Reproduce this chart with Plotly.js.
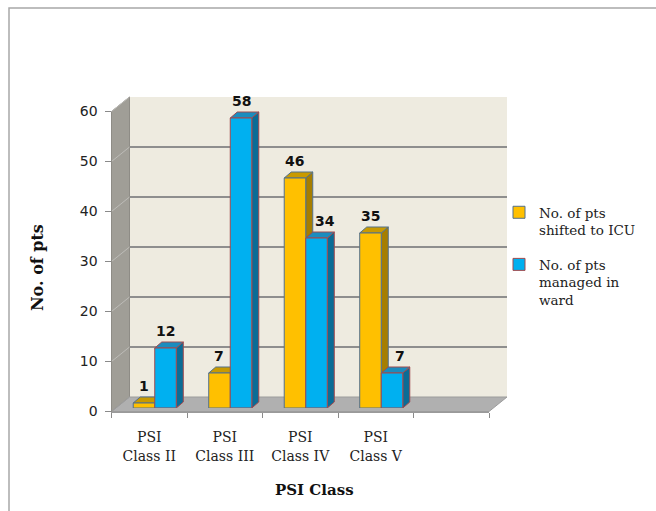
<!DOCTYPE html>
<html>
<head>
<meta charset="utf-8">
<script src="https://cdn.plot.ly/plotly-3.0.1.min.js"></script>
<style>
  html, body { margin: 0; padding: 0; background: #ffffff; }
  #chart { width: 656px; height: 511px; }
</style>
</head>
<body>
<div id="chart"></div>
<script>
// ---- data ----
const categories = ['PSI<br>Class II', 'PSI<br>Class III', 'PSI<br>Class IV', 'PSI<br>Class V'];
const seriesNames = ['No. of pts<br>shifted to ICU', 'No. of pts<br>managed in<br>ward'];
const shiftedToICU = [1, 7, 46, 35];
const managedInWard = [12, 58, 34, 7];
const yTickValues = [0, 10, 20, 30, 40, 50, 60];
const xTitle = 'PSI Class';
const yTitle = 'No. of pts';

// ---- geometry of the pseudo-3D box (pixels in a 656 x 511 figure) ----
const W = 656, H = 511;
const YMAX = 60;
const SLOTS = categories.length + 1;          // one empty slot on the right
const FRONT = { x0: 111.5, x1: 489, y0: 411.5, y1: 111.5 };   // front plane (value 0 -> y0)
const BAR_SHIFT = { dx: 5.5, dy: -3.5 };      // plane in which the bar faces sit
const BACK_SHIFT = { dx: 18, dy: -14.5 };     // back wall plane
const DEPTH = { dx: 7, dy: -6 };              // depth of each bar
const BAR_W = 0.285;                          // bar width in category units

const px = v => v / W;
const py = v => 1 - v / H;
const pxPerCat = (FRONT.x1 - FRONT.x0) / SLOTS;
const pxPerUnit = (FRONT.y0 - FRONT.y1) / YMAX;

function plane(shift) {
  return {
    x: [px(FRONT.x0 + shift.dx), px(FRONT.x1 + shift.dx)],
    y: [py(FRONT.y0 + shift.dy), py(FRONT.y1 + shift.dy)]
  };
}
const front = plane({ dx: 0, dy: 0 });
const barPlane = plane(BAR_SHIFT);
const back = plane(BACK_SHIFT);

const colors = {
  orange: { face: '#FFC000', top: '#C99A00', side: '#A67E00', edge: '#52708C' },
  blue:   { face: '#00B0F0', top: '#1B8CBE', side: '#0A6C96', edge: '#A04A4E' }
};

const idx = categories.map((_, i) => i);
const series = [
  { name: seriesNames[0], values: shiftedToICU, offset: -BAR_W, c: colors.orange, group: 'a' },
  { name: seriesNames[1], values: managedInWard, offset: 0, c: colors.blue, group: 'b' }
];

// ---- traces ----
const traces = [
  // placeholders that give the back-wall grid and the front axes their subplots
  { type: 'scatter', mode: 'lines', x: [], y: [], xaxis: 'x', yaxis: 'y', showlegend: false, hoverinfo: 'skip' },
  { type: 'scatter', mode: 'lines', x: [], y: [], xaxis: 'x2', yaxis: 'y2', showlegend: false, hoverinfo: 'skip' }
];
series.forEach(s => {
  traces.push({
    type: 'bar',
    name: s.name,
    legendgroup: s.group,
    x: idx,
    y: s.values,
    width: BAR_W,
    offset: s.offset,
    xaxis: 'x3', yaxis: 'y3',
    marker: { color: s.c.face, line: { color: s.c.edge, width: 1 } },
    hoverinfo: 'skip'
  });
});

// ---- shapes: walls, floor, bar depth faces ----
const shapes = [];
const path = pts => 'M' + pts.map(p => px(p[0]) + ',' + py(p[1])).join('L') + 'Z';
const F = FRONT, B = BACK_SHIFT;

// back wall
shapes.push({ type: 'path', xref: 'paper', yref: 'paper', layer: 'below',
  path: path([[F.x0 + B.dx, F.y0 + B.dy], [F.x1 + B.dx, F.y0 + B.dy], [F.x1 + B.dx, F.y1 + B.dy], [F.x0 + B.dx, F.y1 + B.dy]]),
  fillcolor: '#EEEBE0', line: { width: 0 } });
// left side wall
shapes.push({ type: 'path', xref: 'paper', yref: 'paper', layer: 'below',
  path: path([[F.x0, F.y0], [F.x0, F.y1], [F.x0 + B.dx, F.y1 + B.dy], [F.x0 + B.dx, F.y0 + B.dy]]),
  fillcolor: '#A09E97', line: { color: '#8E8C86', width: 1 } });
// floor
shapes.push({ type: 'path', xref: 'paper', yref: 'paper', layer: 'below',
  path: path([[F.x0, F.y0], [F.x1, F.y0], [F.x1 + B.dx, F.y0 + B.dy], [F.x0 + B.dx, F.y0 + B.dy]]),
  fillcolor: '#B0B0B0', line: { color: '#9C9C9C', width: 1 } });
// grid lines running across the side wall
yTickValues.forEach(t => {
  const yf = F.y0 - t * pxPerUnit;
  shapes.push({ type: 'line', xref: 'paper', yref: 'paper', layer: 'below',
    x0: px(F.x0), y0: py(yf), x1: px(F.x0 + B.dx), y1: py(yf + B.dy),
    line: { color: t === 0 ? '#9C9C9C' : '#BDBCB8', width: 1 } });
});
// outer chart frame
shapes.push({ type: 'rect', xref: 'paper', yref: 'paper', layer: 'below',
  x0: px(9), x1: 1.05, y0: -0.05, y1: py(8),
  line: { color: '#A8A8A8', width: 1.5 }, fillcolor: 'rgba(0,0,0,0)' });

// depth faces of the bars (drawn in data units of the bar plane)
const ddx = DEPTH.dx / pxPerCat;
const ddy = -DEPTH.dy / pxPerUnit;
const dpath = pts => 'M' + pts.map(p => p[0] + ',' + p[1]).join('L') + 'Z';
series.forEach(s => {
  s.values.forEach((v, i) => {
    const xl = i + s.offset, xr = xl + BAR_W;
    shapes.push({ type: 'path', xref: 'x3', yref: 'y3', layer: 'below',
      path: dpath([[xr, 0], [xr, v], [xr + ddx, v + ddy], [xr + ddx, ddy]]),
      fillcolor: s.c.side, line: { color: s.c.edge, width: 1 } });
    shapes.push({ type: 'path', xref: 'x3', yref: 'y3', layer: 'below',
      path: dpath([[xl, v], [xl + ddx, v + ddy], [xr + ddx, v + ddy], [xr, v]]),
      fillcolor: s.c.top, line: { color: s.c.edge, width: 1 } });
  });
});

// ---- value labels ----
const annotations = [];
series.forEach((s, si) => {
  s.values.forEach((v, i) => {
    // nudge a label sideways when the bar just left of it is taller
    const leftVal = si === 1 ? series[0].values[i] : null;
    const nudge = (leftVal !== null && leftVal > v) ? 8 : 0;
    annotations.push({
      xref: 'x3', yref: 'y3', x: i + s.offset + BAR_W / 2, y: v,
      text: String(v), showarrow: false, xanchor: 'center', yanchor: 'middle',
      xshift: nudge, yshift: 17,
      font: { family: 'DejaVu Sans', size: 14, color: '#111111', weight: 'bold' }
    });
  });
});
// axis titles
annotations.push({ xref: 'paper', yref: 'paper', x: px(314), y: py(490), text: '<b>' + xTitle + '</b>',
  showarrow: false, xanchor: 'center', yanchor: 'middle',
  font: { family: 'DejaVu Serif', size: 15, color: '#111111' } });
annotations.push({ xref: 'paper', yref: 'paper', x: px(37), y: py(268), text: '<b>' + yTitle + '</b>',
  showarrow: false, xanchor: 'center', yanchor: 'middle', textangle: -90,
  font: { family: 'DejaVu Serif', size: 16, color: '#111111' } });

const hidden = { visible: false, fixedrange: true };

const layout = {
  width: W, height: H,
  margin: { l: 0, r: 0, t: 0, b: 0, pad: 0 },
  paper_bgcolor: '#ffffff',
  plot_bgcolor: 'rgba(0,0,0,0)',
  hovermode: false,
  showlegend: true,
  legend: {
    x: px(499), y: py(197), xanchor: 'left', yanchor: 'top',
    bgcolor: 'rgba(0,0,0,0)', borderwidth: 0,
    traceorder: 'grouped', tracegroupgap: 14, valign: 'top', itemwidth: 30,
    font: { family: 'DejaVu Serif', size: 13.5, color: '#222222' }
  },
  // back wall grid
  xaxis: Object.assign({}, hidden, { visible: true, domain: back.x, range: [0, 1], anchor: 'y',
    showgrid: false, zeroline: false, showline: false, showticklabels: false, ticks: '' }),
  yaxis: { domain: back.y, range: [0, YMAX], anchor: 'x', tickmode: 'array', tickvals: yTickValues,
    showgrid: true, gridcolor: '#8E8E8E', gridwidth: 1.4, zeroline: false, showline: false,
    showticklabels: false, ticks: '', fixedrange: true },
  // front axes with tick marks and labels
  xaxis2: { domain: front.x, range: [-0.5, SLOTS - 0.5], anchor: 'y2',
    tickmode: 'array', tickvals: idx, ticktext: categories, ticks: '',
    minor: { tickmode: 'linear', tick0: -0.5, dtick: 1, ticks: 'outside', ticklen: 5, tickcolor: '#8A8A8A', tickwidth: 1 },
    showgrid: false, zeroline: false, showline: true, linecolor: '#9A9A9A', linewidth: 1,
    ticklabelstandoff: 13,
    tickfont: { family: 'DejaVu Serif', size: 14, color: '#222222' }, fixedrange: true },
  yaxis2: { domain: front.y, range: [0, YMAX], anchor: 'x2', tickmode: 'array', tickvals: yTickValues,
    ticks: 'outside', ticklen: 6, tickcolor: '#8A8A8A', tickwidth: 1,
    showgrid: false, zeroline: false, showline: true, linecolor: '#8E8C86', linewidth: 1,
    ticklabelstandoff: 4,
    tickfont: { family: 'DejaVu Sans', size: 14, color: '#222222' }, fixedrange: true },
  // bar plane
  xaxis3: Object.assign({}, hidden, { domain: barPlane.x, range: [-0.5, SLOTS - 0.5], anchor: 'y3' }),
  yaxis3: Object.assign({}, hidden, { domain: barPlane.y, range: [0, YMAX], anchor: 'x3' }),
  shapes: shapes,
  annotations: annotations
};

Plotly.newPlot('chart', traces, layout, { staticPlot: true, displayModeBar: false });
</script>
</body>
</html>
